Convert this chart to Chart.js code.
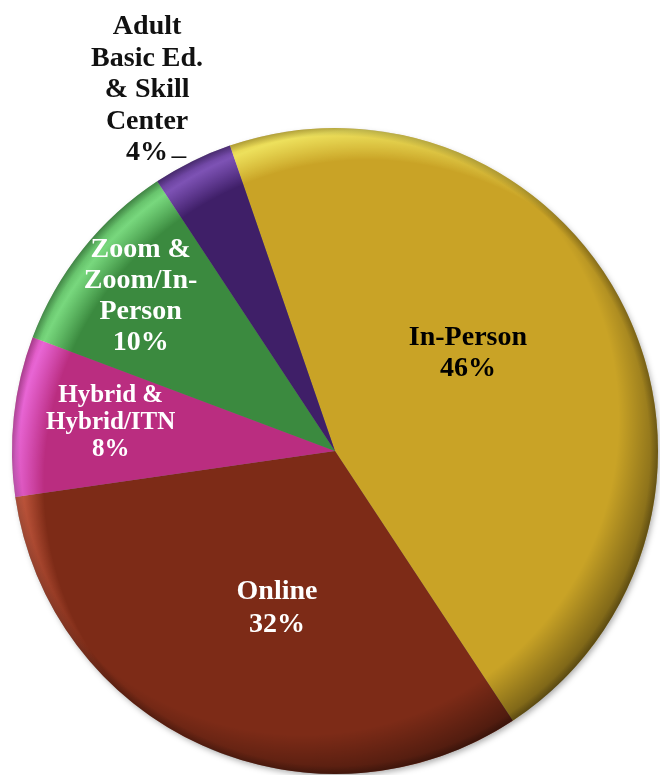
<!DOCTYPE html>
<html>
<head>
<meta charset="utf-8">
<script src="https://cdn.jsdelivr.net/npm/chart.js@4"></script>
<style>
  html, body { margin: 0; padding: 0; background: #fff; }
</style>
</head>
<body>
<canvas id="pieChart" width="660" height="775"></canvas>
<script>
// === DATA ===
const categories = [
  ["In-Person"],
  ["Online"],
  ["Hybrid &", "Hybrid/ITN"],
  ["Zoom &", "Zoom/In-", "Person"],
  ["Adult", "Basic Ed.", "& Skill", "Center"]
];
const shares = [46, 32, 8, 10, 4];

// === STYLE ===
const sliceColors = ["#C9A326", "#7D2B17", "#BA2D80", "#3B8A3F", "#3F1F68"];
const labelColors = ["#000", "#fff", "#fff", "#fff", "#111"];
const labelFrac = [0.51, 0.52, 0.70, 0.77, 1.26];
const labelShift = [-10, -4, 1, 0, -1.3]; // degrees off slice middle
const labelSize = [28, 28, 25, 28, 28];
const labelLine = [31, 33, 27, 31, 31.5];

// soft 3d look: shadow under, dark rim lower right, light rim upper left
const shading = {
  id: "shading",
  beforeDatasetsDraw(chart) {
    const arc = chart.getDatasetMeta(0).data[0];
    const { x, y, outerRadius: r } = arc;
    const ctx = chart.ctx;
    ctx.save();
    ctx.shadowColor = "rgba(0,0,0,0.35)";
    ctx.shadowBlur = 6;
    ctx.shadowOffsetX = 2;
    ctx.shadowOffsetY = 3;
    ctx.beginPath();
    ctx.arc(x, y, r - 1, 0, Math.PI * 2);
    ctx.fillStyle = "#777";
    ctx.fill();
    ctx.restore();
  },
  afterDatasetsDraw(chart) {
    const arc = chart.getDatasetMeta(0).data[0];
    const { x, y, outerRadius: r } = arc;
    const ctx = chart.ctx;
    const d = r * 0.1;
    ctx.save();
    ctx.beginPath();
    ctx.arc(x, y, r, 0, Math.PI * 2);
    ctx.clip();

    let g = ctx.createRadialGradient(x - d, y - d, 0, x - d, y - d, r * 1.15);
    g.addColorStop(0, "rgba(0,0,0,0)");
    g.addColorStop(0.85, "rgba(0,0,0,0)");
    g.addColorStop(1, "rgba(0,0,0,0.45)");
    ctx.fillStyle = g;
    ctx.fillRect(x - r, y - r, r * 2, r * 2);

    // light rim: overlay keeps the hue, a thin white wash makes it pastel
    const lightRim = (peak) => {
      const lg = ctx.createRadialGradient(x + d, y + d, 0, x + d, y + d, r * 1.15);
      lg.addColorStop(0, "rgba(255,255,255,0)");
      lg.addColorStop(0.87, "rgba(255,255,255,0)");
      lg.addColorStop(0.95, "rgba(255,255,255," + peak + ")");
      lg.addColorStop(1, "rgba(255,255,255," + peak * 0.25 + ")");
      return lg;
    };
    ctx.globalCompositeOperation = "overlay";
    ctx.fillStyle = lightRim(0.6);
    ctx.fillRect(x - r, y - r, r * 2, r * 2);
    ctx.globalCompositeOperation = "source-over";
    ctx.fillStyle = lightRim(0.16);
    ctx.fillRect(x - r, y - r, r * 2, r * 2);

    g = ctx.createRadialGradient(x, y, 0, x, y, r);
    g.addColorStop(0, "rgba(0,0,0,0)");
    g.addColorStop(0.975, "rgba(0,0,0,0)");
    g.addColorStop(1, "rgba(0,0,0,0.22)");
    ctx.fillStyle = g;
    ctx.fillRect(x - r, y - r, r * 2, r * 2);
    ctx.restore();
  }
};

// === LABELS ===
const sliceLabels = {
  id: "sliceLabels",
  afterDraw(chart) {
    const ctx = chart.ctx;
    const arcs = chart.getDatasetMeta(0).data;
    ctx.save();
    ctx.textAlign = "center";
    ctx.textBaseline = "middle";
    arcs.forEach((arc, i) => {
      const { x, y, startAngle, endAngle, outerRadius: r } = arc;
      const a = (startAngle + endAngle) / 2 + labelShift[i] * Math.PI / 180;
      const px = x + Math.cos(a) * r * labelFrac[i];
      const py = y + Math.sin(a) * r * labelFrac[i];
      const lines = categories[i].concat([shares[i] + "%"]);
      const lh = labelLine[i];
      const top = py - (lines.length - 1) * lh / 2;
      ctx.font = "bold " + labelSize[i] + "px 'Liberation Serif', 'Times New Roman', serif";
      ctx.fillStyle = labelColors[i];
      lines.forEach((t, k) => ctx.fillText(t, px, top + k * lh));

      if (labelFrac[i] > 1) {
        // short leader to the slice
        const rx = x + Math.cos((startAngle + endAngle) / 2) * r;
        const ry = y + Math.sin((startAngle + endAngle) / 2) * r;
        ctx.strokeStyle = "#000";
        ctx.lineWidth = 1.5;
        ctx.beginPath();
        ctx.moveTo(rx - 21, ry - 4);
        ctx.lineTo(rx - 6, ry - 4);
        ctx.stroke();
      }
    });
    ctx.restore();
  }
};

// === PIE CHART ===
const ctx = document.getElementById("pieChart").getContext("2d");
new Chart(ctx, {
  type: "pie",
  data: {
    labels: categories.map(c => c.join(" ")),
    datasets: [{
      data: shares,
      backgroundColor: sliceColors,
      borderWidth: 0
    }]
  },
  options: {
    responsive: false,
    animation: false,
    rotation: -19,
    layout: { padding: { top: 127, left: 12, right: 2, bottom: 0 } },
    plugins: {
      legend: { display: false },
      tooltip: { enabled: false }
    }
  },
  plugins: [shading, sliceLabels]
});
</script>
</body>
</html>
